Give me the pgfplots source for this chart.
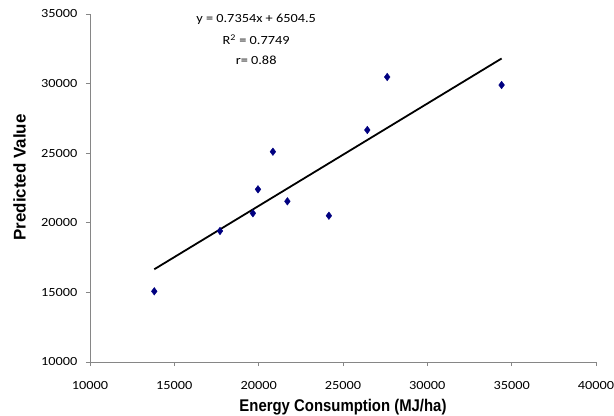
\documentclass[border=0pt]{standalone}
\usepackage{fontspec}
\usepackage{pgfplots}
\pgfplotsset{compat=1.18}
\newfontfamily\tickfont[FakeStretch=1.15]{Carlito}
\newfontfamily\labfont[FakeStretch=0.88]{Liberation Sans}
\newfontfamily\ylabfont{Liberation Sans}
\definecolor{axgray}{HTML}{868686}
\definecolor{navy}{HTML}{000080}

\begin{document}
\begin{tikzpicture}
\begin{axis}[
    name=ax,
    scale only axis,
    width=506bp, height=348bp,
    xmin=10000, xmax=40000, ymin=10000, ymax=35000,
    axis lines=left,
    axis line style={-, axgray, line width=0.8bp},
    xtick={10000,15000,...,40000},
    ytick={10000,15000,...,35000},
    tick align=outside,
    major tick length=4bp,
    tick style={axgray, line width=0.8bp},
    scaled ticks=false,
    /pgf/number format/1000 sep={},
    /pgf/number format/assume math mode=true,
    tick label style={font=\tickfont\fontsize{12.5}{14}\selectfont, text=black},
    xticklabel style={yshift=-12bp},
    yticklabel style={xshift=-5bp},
    xlabel={Energy Consumption (MJ/ha)},
    ylabel={Predicted Value},
    xlabel style={font=\labfont\bfseries\fontsize{17}{20}\selectfont,
        at={(axis description cs:0.5,-0.1293)}, anchor=center},
    ylabel style={font=\ylabfont\bfseries\fontsize{17}{20}\selectfont,
        at={(axis description cs:-0.1393,0.53)}, anchor=center},
]

% observed points
\addplot[only marks, mark=diamond*, mark size=3.8bp, color=navy] coordinates {
    (13812,15079) (17708,19411) (19658,20682) (19960,22406) (20844,25108)
    (21703,21544) (24164,20510) (26441,26667) (27621,30474) (34403,29899)
};

% linear trend line
\addplot[black, line width=1.8bp, no marks] coordinates {(13812,16662) (34403,31804)};

\node[font=\tickfont\fontsize{12.5}{14}\selectfont] at (axis cs:19850,34650) {y = 0.7354x + 6504.5};
\node[font=\tickfont\fontsize{12.5}{14}\selectfont] at (axis cs:19850,33150) {R\textsuperscript{2} = 0.7749};
\node[font=\tickfont\fontsize{12.5}{14}\selectfont] at (axis cs:19850,31650) {r= 0.88};
\end{axis}
\pgfresetboundingbox
\path[use as bounding box] ([xshift=-90bp,yshift=-54bp]ax.south west) rectangle ([xshift=18bp,yshift=14bp]ax.north east);
\end{tikzpicture}
\end{document}
